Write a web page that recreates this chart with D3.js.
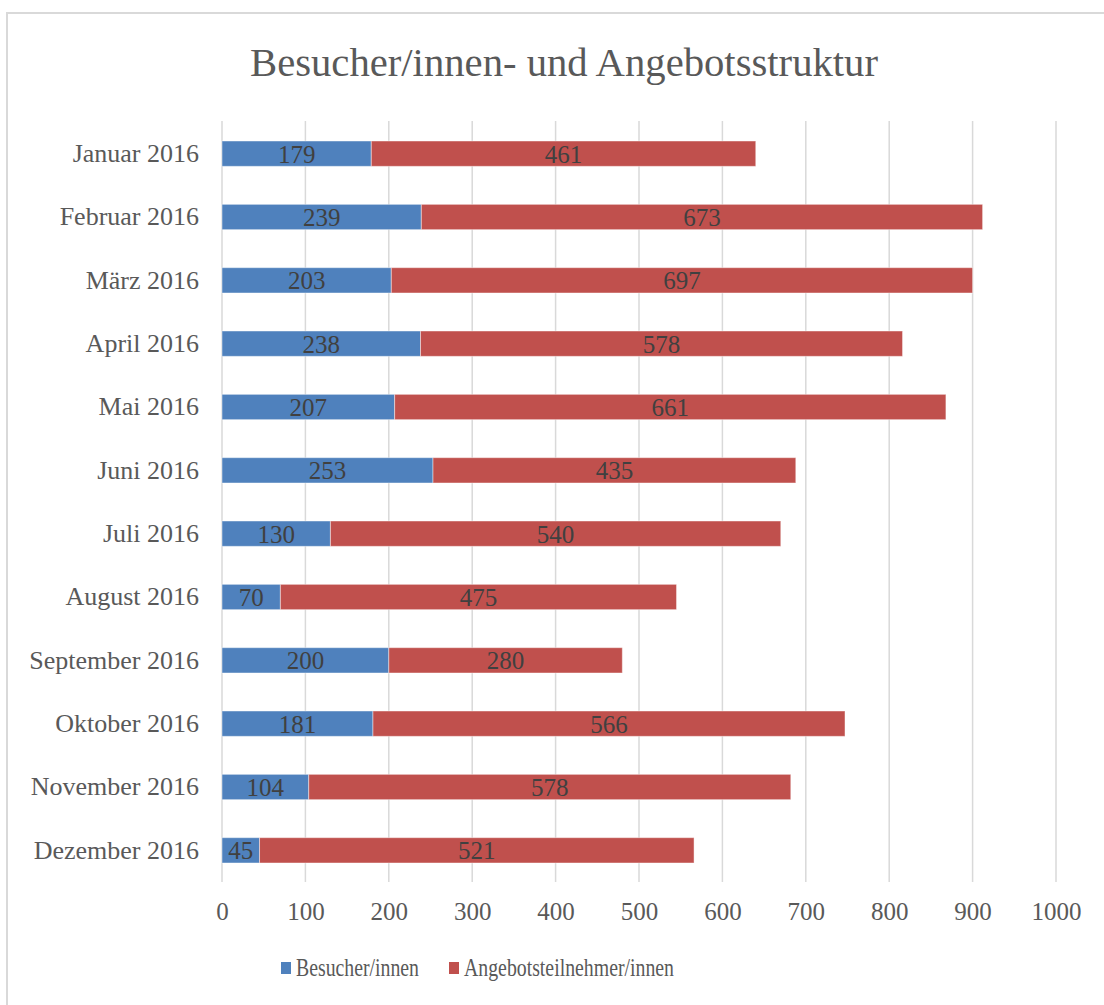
<!DOCTYPE html>
<html>
<head>
<meta charset="utf-8">
<script src="https://cdn.jsdelivr.net/npm/d3@7"></script>
<style>
  body { margin: 0; background: #fff; }
  text { font-family: "Liberation Serif", "DejaVu Serif", serif; }
</style>
</head>
<body>
<div id="chart"></div>
<script>
const months = ["Januar 2016", "Februar 2016", "März 2016", "April 2016", "Mai 2016", "Juni 2016",
  "Juli 2016", "August 2016", "September 2016", "Oktober 2016", "November 2016", "Dezember 2016"];
const besucher = [179, 239, 203, 238, 207, 253, 130, 70, 200, 181, 104, 45];
const angebot = [461, 673, 697, 578, 661, 435, 540, 475, 280, 566, 578, 521];
const seriesNames = ["Besucher/innen", "Angebotsteilnehmer/innen"];
const xTicks = [0, 100, 200, 300, 400, 500, 600, 700, 800, 900, 1000];
const title = "Besucher/innen- und Angebotsstruktur";

(function () {
  const width = 1104, height = 1005;
  const colors = ["#4f81bd", "#c0504d"];
  const svg = d3.select("#chart").append("svg")
    .attr("width", width).attr("height", height);

  // chart frame
  svg.append("rect")
    .attr("x", 7).attr("y", 13).attr("width", 1200).attr("height", 1100)
    .attr("fill", "none").attr("stroke", "#d9d9d9").attr("stroke-width", 2);

  svg.append("text")
    .attr("x", 564).attr("y", 76)
    .attr("text-anchor", "middle")
    .attr("font-size", 39).attr("fill", "#595959")
    .attr("textLength", 628).attr("lengthAdjust", "spacingAndGlyphs")
    .text(title);

  const x = d3.scaleLinear().domain([0, 1000]).range([222, 1056]);
  const y = d3.scaleBand().domain(months).range([122, 882]).paddingInner(0.6).paddingOuter(0.3);

  // gridlines
  svg.append("g").selectAll("line").data(xTicks).join("line")
    .attr("x1", d => x(d)).attr("x2", d => x(d))
    .attr("y1", 121).attr("y2", 882)
    .attr("stroke", "#d9d9d9").attr("stroke-width", 1.5);

  // x axis labels
  const xAxis = svg.append("g").attr("transform", "translate(0,882)")
    .call(d3.axisBottom(x).tickValues(xTicks).tickSize(0).tickPadding(20).tickFormat(d3.format("d")));
  xAxis.select(".domain").remove();
  xAxis.selectAll("text").attr("font-size", 25).attr("fill", "#595959")
    .attr("font-family", "Liberation Serif");

  // y axis labels
  const yAxis = svg.append("g").attr("transform", "translate(222,0)")
    .call(d3.axisLeft(y).tickSize(0).tickPadding(23));
  yAxis.select(".domain").remove();
  yAxis.selectAll("text").attr("font-size", 26).attr("fill", "#595959")
    .attr("font-family", "Liberation Serif");

  const rows = months.map((m, i) => ({ month: m, b: besucher[i], a: angebot[i] }));
  const stack = d3.stack().keys(["b", "a"])(rows);

  const layers = svg.append("g").selectAll("g").data(stack).join("g")
    .attr("fill", (d, i) => colors[i]);

  layers.selectAll("rect").data(d => d).join("rect")
    .attr("x", d => x(d[0]))
    .attr("width", d => x(d[1]) - x(d[0]))
    .attr("y", d => y(d.data.month))
    .attr("height", y.bandwidth())
    .attr("stroke", "#fff").attr("stroke-opacity", 0.45).attr("stroke-width", 1);

  layers.selectAll("text").data(d => d).join("text")
    .attr("x", d => (x(d[0]) + x(d[1])) / 2)
    .attr("y", d => y(d.data.month) + y.bandwidth() / 2 + 9)
    .attr("text-anchor", "middle")
    .attr("font-size", 25).attr("fill", "#404040")
    .text(d => d[1] - d[0]);

  // legend
  const legendX = [281, 449];
  const legendW = [123, 210];
  const legend = svg.append("g").selectAll("g").data(seriesNames).join("g")
    .attr("transform", (d, i) => `translate(${legendX[i]},962)`);
  legend.append("rect").attr("width", 10).attr("height", 12)
    .attr("fill", (d, i) => colors[i]);
  legend.append("text").attr("x", 15).attr("y", 14)
    .attr("font-size", 25).attr("fill", "#595959")
    .attr("textLength", (d, i) => legendW[i]).attr("lengthAdjust", "spacingAndGlyphs")
    .text(d => d);
})();
</script>
</body>
</html>
